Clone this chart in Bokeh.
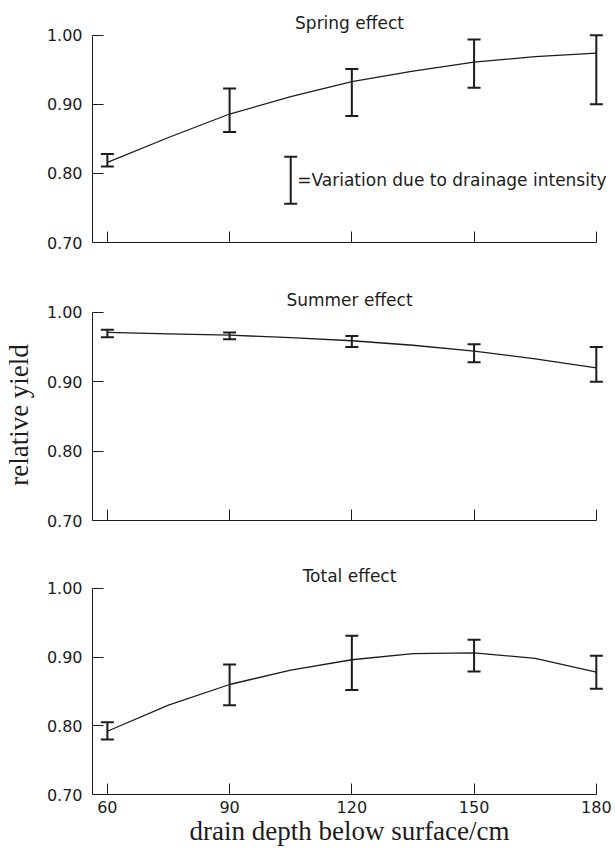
from bokeh.plotting import figure
from bokeh.models import Range1d, FixedTicker, PrintfTickFormatter, Whisker, TeeHead, ColumnDataSource, Label
from bokeh.layouts import column
from bokeh.embed import file_html
from bokeh.resources import INLINE

# ---- data ----
depth = [60, 90, 120, 150, 180]
depth_ticks = [60, 90, 120, 150, 180]
yield_ticks = [0.70, 0.80, 0.90, 1.00]

spring_lower = [0.810, 0.860, 0.883, 0.924, 0.900]
spring_upper = [0.828, 0.923, 0.951, 0.994, 1.000]
summer_lower = [0.964, 0.961, 0.950, 0.928, 0.900]
summer_upper = [0.975, 0.971, 0.966, 0.954, 0.950]
total_lower = [0.780, 0.830, 0.852, 0.879, 0.854]
total_upper = [0.805, 0.889, 0.931, 0.925, 0.902]

curve_depth = [60, 75, 90, 105, 120, 135, 150, 165, 180]
spring_curve = [0.816, 0.852, 0.886, 0.911, 0.933, 0.948, 0.961, 0.969, 0.974]
summer_curve = [0.971, 0.969, 0.967, 0.9635, 0.959, 0.9525, 0.944, 0.933, 0.920]
total_curve = [0.792, 0.830, 0.860, 0.881, 0.896, 0.905, 0.906, 0.898, 0.878]

titles = ["Spring effect", "Summer effect", "Total effect"]
legend_text = "=Variation due to drainage intensity"
legend_bar_depth = 105
legend_bar_lower = 0.756
legend_bar_upper = 0.824

INK = "#1c1c1c"
SANS = "DejaVu Sans"
SERIF = "Liberation Serif"


def make_panel(title, lower, upper, curve, height, top, bottom, last=False, ylabel=None):
    p = figure(width=615, height=height,
               x_range=Range1d(56.35, 182.5), y_range=Range1d(0.70, 1.004),
               output_backend="svg", toolbar_location=None,
               min_border_left=88, min_border_right=9,
               min_border_top=top, min_border_bottom=bottom,
               background_fill_color="white", border_fill_color="white")
    p.outline_line_color = None
    p.grid.visible = False

    p.title.text = title
    p.title.align = "center"
    p.title.text_font = SANS
    p.title.text_font_size = "17px"
    p.title.text_font_style = "normal"
    p.title.text_color = INK
    p.title.standoff = 0

    # y axis
    ya = p.yaxis[0]
    ya.ticker = FixedTicker(ticks=yield_ticks)
    ya.formatter = PrintfTickFormatter(format="%.2f")
    ya.bounds = (0.70, 1.00)
    ya.major_tick_in = 11
    ya.major_tick_out = 0
    ya.minor_tick_line_color = None
    ya.axis_line_color = INK
    ya.major_tick_line_color = INK
    ya.major_label_standoff = 10
    ya.major_label_text_font = SANS
    ya.major_label_text_font_size = "16px"
    ya.major_label_text_color = INK
    if ylabel:
        ya.axis_label = ylabel
        ya.axis_label_text_font = SERIF
        ya.axis_label_text_font_size = "27px"
        ya.axis_label_text_font_style = "normal"
        ya.axis_label_text_color = INK
        ya.axis_label_standoff = 10

    # x axis
    xa = p.xaxis[0]
    xa.ticker = FixedTicker(ticks=depth_ticks)
    xa.bounds = (56.35, 180)
    xa.major_tick_in = 11
    xa.major_tick_out = 0
    xa.minor_tick_line_color = None
    xa.axis_line_color = INK
    xa.major_tick_line_color = INK
    xa.major_label_text_font = SANS
    xa.major_label_text_font_size = "16px"
    xa.major_label_text_color = INK
    if last:
        xa.major_label_standoff = 6
        xa.axis_label = "drain depth below surface/cm"
        xa.axis_label_text_font = SERIF
        xa.axis_label_text_font_size = "27px"
        xa.axis_label_text_font_style = "normal"
        xa.axis_label_text_color = INK
        xa.axis_label_standoff = 0
    else:
        xa.major_label_standoff = 0
        xa.major_label_overrides = {t: "" for t in depth_ticks}

    # fitted curve
    p.line(curve_depth, curve, line_color=INK, line_width=1.3, line_join="round")

    # variation bars
    src = ColumnDataSource(dict(x=depth, lo=lower, hi=upper))
    w = Whisker(source=src, base="x", lower="lo", upper="hi", dimension="height",
                line_color=INK, line_width=2,
                upper_head=TeeHead(size=13, line_color=INK, line_width=2),
                lower_head=TeeHead(size=13, line_color=INK, line_width=2))
    p.add_layout(w)
    return p


p1 = make_panel(titles[0], spring_lower, spring_upper, spring_curve, 262, 32, 20)
p2 = make_panel(titles[1], summer_lower, summer_upper, summer_curve, 278, 47, 20, ylabel="relative yield")
p3 = make_panel(titles[2], total_lower, total_upper, total_curve, 308, 45, 54, last=True)

# legend key in the spring panel
lsrc = ColumnDataSource(dict(x=[legend_bar_depth], lo=[legend_bar_lower], hi=[legend_bar_upper]))
p1.add_layout(Whisker(source=lsrc, base="x", lower="lo", upper="hi", dimension="height",
                      line_color=INK, line_width=2,
                      upper_head=TeeHead(size=13, line_color=INK, line_width=2),
                      lower_head=TeeHead(size=13, line_color=INK, line_width=2)))
p1.add_layout(Label(x=106.6, y=(legend_bar_lower + legend_bar_upper) / 2, text=legend_text,
                    text_font=SANS, text_font_size="17px", text_color=INK,
                    text_baseline="middle", text_align="left"))

layout = column(p1, p2, p3, spacing=0)
open("out.html", "w").write(file_html(layout, INLINE))
